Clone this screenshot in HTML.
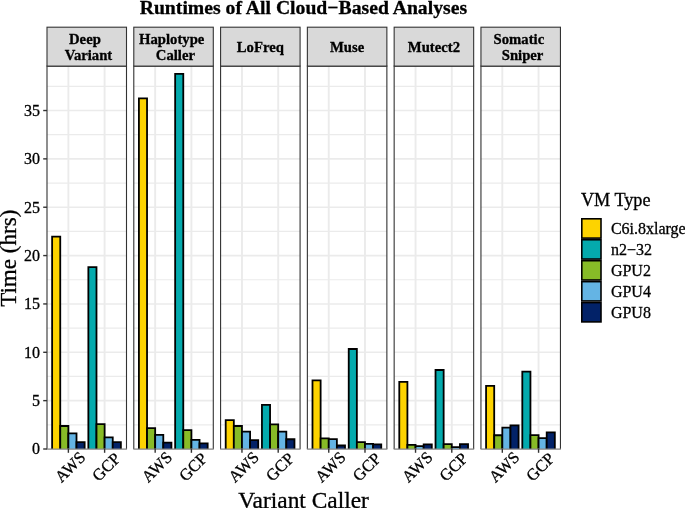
<!DOCTYPE html><html><head><meta charset="utf-8"><style>html,body{margin:0;padding:0;background:#fff;overflow:hidden}svg{display:block;will-change:transform;filter:blur(0.3px)}text{font-family:"Liberation Serif",serif;white-space:pre;stroke:#000;stroke-width:0.3px}</style></head><body>
<svg width="685" height="508" viewBox="0 0 685 508">
<rect width="685" height="508" fill="#fff"/>
<text x="303.4" y="13.8" font-size="19.7" font-weight="bold" text-anchor="middle" fill="#000">Runtimes of All Cloud−Based Analyses</text>
<rect x="47.00" y="66.10" width="79.50" height="382.90" fill="#fff"/>
<line x1="47.00" x2="126.50" y1="424.82" y2="424.82" stroke="#EBEBEB" stroke-width="1.2"/>
<line x1="47.00" x2="126.50" y1="376.47" y2="376.47" stroke="#EBEBEB" stroke-width="1.2"/>
<line x1="47.00" x2="126.50" y1="328.11" y2="328.11" stroke="#EBEBEB" stroke-width="1.2"/>
<line x1="47.00" x2="126.50" y1="279.76" y2="279.76" stroke="#EBEBEB" stroke-width="1.2"/>
<line x1="47.00" x2="126.50" y1="231.40" y2="231.40" stroke="#EBEBEB" stroke-width="1.2"/>
<line x1="47.00" x2="126.50" y1="183.05" y2="183.05" stroke="#EBEBEB" stroke-width="1.2"/>
<line x1="47.00" x2="126.50" y1="134.69" y2="134.69" stroke="#EBEBEB" stroke-width="1.2"/>
<line x1="47.00" x2="126.50" y1="86.34" y2="86.34" stroke="#EBEBEB" stroke-width="1.2"/>
<line x1="47.00" x2="126.50" y1="449.00" y2="449.00" stroke="#EBEBEB" stroke-width="1.6"/>
<line x1="47.00" x2="126.50" y1="400.64" y2="400.64" stroke="#EBEBEB" stroke-width="1.6"/>
<line x1="47.00" x2="126.50" y1="352.29" y2="352.29" stroke="#EBEBEB" stroke-width="1.6"/>
<line x1="47.00" x2="126.50" y1="303.94" y2="303.94" stroke="#EBEBEB" stroke-width="1.6"/>
<line x1="47.00" x2="126.50" y1="255.58" y2="255.58" stroke="#EBEBEB" stroke-width="1.6"/>
<line x1="47.00" x2="126.50" y1="207.23" y2="207.23" stroke="#EBEBEB" stroke-width="1.6"/>
<line x1="47.00" x2="126.50" y1="158.87" y2="158.87" stroke="#EBEBEB" stroke-width="1.6"/>
<line x1="47.00" x2="126.50" y1="110.52" y2="110.52" stroke="#EBEBEB" stroke-width="1.6"/>
<line x1="68.38" x2="68.38" y1="66.10" y2="449.00" stroke="#EBEBEB" stroke-width="1.9"/>
<line x1="104.62" x2="104.62" y1="66.10" y2="449.00" stroke="#EBEBEB" stroke-width="1.9"/>
<rect x="52.12" y="236.72" width="8.13" height="212.28" fill="#FDD300"/>
<path d="M52.12,449.00V236.72H60.25V449.00" fill="none" stroke="#000" stroke-width="1.8"/>
<rect x="60.25" y="425.98" width="8.13" height="23.02" fill="#87BB27"/>
<path d="M60.25,449.00V425.98H68.38V449.00" fill="none" stroke="#000" stroke-width="1.8"/>
<rect x="68.38" y="433.33" width="8.13" height="15.67" fill="#64B4E4"/>
<path d="M68.38,449.00V433.33H76.51V449.00" fill="none" stroke="#000" stroke-width="1.8"/>
<rect x="76.51" y="442.04" width="8.13" height="6.96" fill="#022268"/>
<path d="M76.51,449.00V442.04H84.64V449.00" fill="none" stroke="#000" stroke-width="1.8"/>
<rect x="88.36" y="267.19" width="8.13" height="181.81" fill="#04AAAD"/>
<path d="M88.36,449.00V267.19H96.49V449.00" fill="none" stroke="#000" stroke-width="1.8"/>
<rect x="96.49" y="424.15" width="8.13" height="24.85" fill="#87BB27"/>
<path d="M96.49,449.00V424.15H104.62V449.00" fill="none" stroke="#000" stroke-width="1.8"/>
<rect x="104.62" y="437.39" width="8.13" height="11.61" fill="#64B4E4"/>
<path d="M104.62,449.00V437.39H112.75V449.00" fill="none" stroke="#000" stroke-width="1.8"/>
<rect x="112.75" y="442.04" width="8.13" height="6.96" fill="#022268"/>
<path d="M112.75,449.00V442.04H120.88V449.00" fill="none" stroke="#000" stroke-width="1.8"/>
<path d="M47.00,449.00V66.10H126.50V449.00" fill="none" stroke="#333" stroke-width="1.1"/>
<line x1="46.50" x2="127.00" y1="449.10" y2="449.10" stroke="#8a8a8a" stroke-width="1.3"/>
<rect x="47.00" y="27.20" width="79.50" height="38.90" fill="#D9D9D9" stroke="#333" stroke-width="1.1"/>
<text x="86.75" y="43.7" font-size="14.7" font-weight="bold" text-anchor="middle">Deep </text>
<text x="86.75" y="59.7" font-size="14.7" font-weight="bold" text-anchor="middle"> Variant</text>
<line x1="68.38" x2="68.38" y1="449.00" y2="452.80" stroke="#333" stroke-width="1.4"/>
<text transform="translate(66.26,463.09) rotate(-45)" x="0" y="0" font-size="16.5" text-anchor="middle" dy="0.66em">AWS</text>
<line x1="104.62" x2="104.62" y1="449.00" y2="452.80" stroke="#333" stroke-width="1.4"/>
<text transform="translate(102.50,463.09) rotate(-45)" x="0" y="0" font-size="16.5" text-anchor="middle" dy="0.66em">GCP</text>
<rect x="133.79" y="66.10" width="79.50" height="382.90" fill="#fff"/>
<line x1="133.79" x2="213.29" y1="424.82" y2="424.82" stroke="#EBEBEB" stroke-width="1.2"/>
<line x1="133.79" x2="213.29" y1="376.47" y2="376.47" stroke="#EBEBEB" stroke-width="1.2"/>
<line x1="133.79" x2="213.29" y1="328.11" y2="328.11" stroke="#EBEBEB" stroke-width="1.2"/>
<line x1="133.79" x2="213.29" y1="279.76" y2="279.76" stroke="#EBEBEB" stroke-width="1.2"/>
<line x1="133.79" x2="213.29" y1="231.40" y2="231.40" stroke="#EBEBEB" stroke-width="1.2"/>
<line x1="133.79" x2="213.29" y1="183.05" y2="183.05" stroke="#EBEBEB" stroke-width="1.2"/>
<line x1="133.79" x2="213.29" y1="134.69" y2="134.69" stroke="#EBEBEB" stroke-width="1.2"/>
<line x1="133.79" x2="213.29" y1="86.34" y2="86.34" stroke="#EBEBEB" stroke-width="1.2"/>
<line x1="133.79" x2="213.29" y1="449.00" y2="449.00" stroke="#EBEBEB" stroke-width="1.6"/>
<line x1="133.79" x2="213.29" y1="400.64" y2="400.64" stroke="#EBEBEB" stroke-width="1.6"/>
<line x1="133.79" x2="213.29" y1="352.29" y2="352.29" stroke="#EBEBEB" stroke-width="1.6"/>
<line x1="133.79" x2="213.29" y1="303.94" y2="303.94" stroke="#EBEBEB" stroke-width="1.6"/>
<line x1="133.79" x2="213.29" y1="255.58" y2="255.58" stroke="#EBEBEB" stroke-width="1.6"/>
<line x1="133.79" x2="213.29" y1="207.23" y2="207.23" stroke="#EBEBEB" stroke-width="1.6"/>
<line x1="133.79" x2="213.29" y1="158.87" y2="158.87" stroke="#EBEBEB" stroke-width="1.6"/>
<line x1="133.79" x2="213.29" y1="110.52" y2="110.52" stroke="#EBEBEB" stroke-width="1.6"/>
<line x1="155.17" x2="155.17" y1="66.10" y2="449.00" stroke="#EBEBEB" stroke-width="1.9"/>
<line x1="191.41" x2="191.41" y1="66.10" y2="449.00" stroke="#EBEBEB" stroke-width="1.9"/>
<rect x="138.91" y="98.43" width="8.13" height="350.57" fill="#FDD300"/>
<path d="M138.91,449.00V98.43H147.04V449.00" fill="none" stroke="#000" stroke-width="1.8"/>
<rect x="147.04" y="428.11" width="8.13" height="20.89" fill="#87BB27"/>
<path d="M147.04,449.00V428.11H155.17V449.00" fill="none" stroke="#000" stroke-width="1.8"/>
<rect x="155.17" y="434.88" width="8.13" height="14.12" fill="#64B4E4"/>
<path d="M155.17,449.00V434.88H163.30V449.00" fill="none" stroke="#000" stroke-width="1.8"/>
<rect x="163.30" y="442.62" width="8.13" height="6.38" fill="#022268"/>
<path d="M163.30,449.00V442.62H171.43V449.00" fill="none" stroke="#000" stroke-width="1.8"/>
<rect x="175.15" y="73.96" width="8.13" height="375.04" fill="#04AAAD"/>
<path d="M175.15,449.00V73.96H183.28V449.00" fill="none" stroke="#000" stroke-width="1.8"/>
<rect x="183.28" y="430.04" width="8.13" height="18.96" fill="#87BB27"/>
<path d="M183.28,449.00V430.04H191.41V449.00" fill="none" stroke="#000" stroke-width="1.8"/>
<rect x="191.41" y="439.91" width="8.13" height="9.09" fill="#64B4E4"/>
<path d="M191.41,449.00V439.91H199.54V449.00" fill="none" stroke="#000" stroke-width="1.8"/>
<rect x="199.54" y="443.39" width="8.13" height="5.61" fill="#022268"/>
<path d="M199.54,449.00V443.39H207.67V449.00" fill="none" stroke="#000" stroke-width="1.8"/>
<path d="M133.79,449.00V66.10H213.29V449.00" fill="none" stroke="#333" stroke-width="1.1"/>
<line x1="133.29" x2="213.79" y1="449.10" y2="449.10" stroke="#8a8a8a" stroke-width="1.3"/>
<rect x="133.79" y="27.20" width="79.50" height="38.90" fill="#D9D9D9" stroke="#333" stroke-width="1.1"/>
<text x="173.54" y="43.7" font-size="14.7" font-weight="bold" text-anchor="middle">Haplotype </text>
<text x="173.54" y="59.7" font-size="14.7" font-weight="bold" text-anchor="middle"> Caller</text>
<line x1="155.17" x2="155.17" y1="449.00" y2="452.80" stroke="#333" stroke-width="1.4"/>
<text transform="translate(153.05,463.09) rotate(-45)" x="0" y="0" font-size="16.5" text-anchor="middle" dy="0.66em">AWS</text>
<line x1="191.41" x2="191.41" y1="449.00" y2="452.80" stroke="#333" stroke-width="1.4"/>
<text transform="translate(189.29,463.09) rotate(-45)" x="0" y="0" font-size="16.5" text-anchor="middle" dy="0.66em">GCP</text>
<rect x="220.58" y="66.10" width="79.50" height="382.90" fill="#fff"/>
<line x1="220.58" x2="300.08" y1="424.82" y2="424.82" stroke="#EBEBEB" stroke-width="1.2"/>
<line x1="220.58" x2="300.08" y1="376.47" y2="376.47" stroke="#EBEBEB" stroke-width="1.2"/>
<line x1="220.58" x2="300.08" y1="328.11" y2="328.11" stroke="#EBEBEB" stroke-width="1.2"/>
<line x1="220.58" x2="300.08" y1="279.76" y2="279.76" stroke="#EBEBEB" stroke-width="1.2"/>
<line x1="220.58" x2="300.08" y1="231.40" y2="231.40" stroke="#EBEBEB" stroke-width="1.2"/>
<line x1="220.58" x2="300.08" y1="183.05" y2="183.05" stroke="#EBEBEB" stroke-width="1.2"/>
<line x1="220.58" x2="300.08" y1="134.69" y2="134.69" stroke="#EBEBEB" stroke-width="1.2"/>
<line x1="220.58" x2="300.08" y1="86.34" y2="86.34" stroke="#EBEBEB" stroke-width="1.2"/>
<line x1="220.58" x2="300.08" y1="449.00" y2="449.00" stroke="#EBEBEB" stroke-width="1.6"/>
<line x1="220.58" x2="300.08" y1="400.64" y2="400.64" stroke="#EBEBEB" stroke-width="1.6"/>
<line x1="220.58" x2="300.08" y1="352.29" y2="352.29" stroke="#EBEBEB" stroke-width="1.6"/>
<line x1="220.58" x2="300.08" y1="303.94" y2="303.94" stroke="#EBEBEB" stroke-width="1.6"/>
<line x1="220.58" x2="300.08" y1="255.58" y2="255.58" stroke="#EBEBEB" stroke-width="1.6"/>
<line x1="220.58" x2="300.08" y1="207.23" y2="207.23" stroke="#EBEBEB" stroke-width="1.6"/>
<line x1="220.58" x2="300.08" y1="158.87" y2="158.87" stroke="#EBEBEB" stroke-width="1.6"/>
<line x1="220.58" x2="300.08" y1="110.52" y2="110.52" stroke="#EBEBEB" stroke-width="1.6"/>
<line x1="241.96" x2="241.96" y1="66.10" y2="449.00" stroke="#EBEBEB" stroke-width="1.9"/>
<line x1="278.20" x2="278.20" y1="66.10" y2="449.00" stroke="#EBEBEB" stroke-width="1.9"/>
<rect x="225.70" y="420.08" width="8.13" height="28.92" fill="#FDD300"/>
<path d="M225.70,449.00V420.08H233.83V449.00" fill="none" stroke="#000" stroke-width="1.8"/>
<rect x="233.83" y="425.98" width="8.13" height="23.02" fill="#87BB27"/>
<path d="M233.83,449.00V425.98H241.96V449.00" fill="none" stroke="#000" stroke-width="1.8"/>
<rect x="241.96" y="431.69" width="8.13" height="17.31" fill="#64B4E4"/>
<path d="M241.96,449.00V431.69H250.09V449.00" fill="none" stroke="#000" stroke-width="1.8"/>
<rect x="250.09" y="440.20" width="8.13" height="8.80" fill="#022268"/>
<path d="M250.09,449.00V440.20H258.22V449.00" fill="none" stroke="#000" stroke-width="1.8"/>
<rect x="261.94" y="404.80" width="8.13" height="44.20" fill="#04AAAD"/>
<path d="M261.94,449.00V404.80H270.07V449.00" fill="none" stroke="#000" stroke-width="1.8"/>
<rect x="270.07" y="424.34" width="8.13" height="24.66" fill="#87BB27"/>
<path d="M270.07,449.00V424.34H278.20V449.00" fill="none" stroke="#000" stroke-width="1.8"/>
<rect x="278.20" y="431.69" width="8.13" height="17.31" fill="#64B4E4"/>
<path d="M278.20,449.00V431.69H286.33V449.00" fill="none" stroke="#000" stroke-width="1.8"/>
<rect x="286.33" y="439.23" width="8.13" height="9.77" fill="#022268"/>
<path d="M286.33,449.00V439.23H294.46V449.00" fill="none" stroke="#000" stroke-width="1.8"/>
<path d="M220.58,449.00V66.10H300.08V449.00" fill="none" stroke="#333" stroke-width="1.1"/>
<line x1="220.08" x2="300.58" y1="449.10" y2="449.10" stroke="#8a8a8a" stroke-width="1.3"/>
<rect x="220.58" y="27.20" width="79.50" height="38.90" fill="#D9D9D9" stroke="#333" stroke-width="1.1"/>
<text x="260.33" y="51.6" font-size="14.7" font-weight="bold" text-anchor="middle">LoFreq</text>
<line x1="241.96" x2="241.96" y1="449.00" y2="452.80" stroke="#333" stroke-width="1.4"/>
<text transform="translate(239.84,463.09) rotate(-45)" x="0" y="0" font-size="16.5" text-anchor="middle" dy="0.66em">AWS</text>
<line x1="278.20" x2="278.20" y1="449.00" y2="452.80" stroke="#333" stroke-width="1.4"/>
<text transform="translate(276.08,463.09) rotate(-45)" x="0" y="0" font-size="16.5" text-anchor="middle" dy="0.66em">GCP</text>
<rect x="307.37" y="66.10" width="79.50" height="382.90" fill="#fff"/>
<line x1="307.37" x2="386.87" y1="424.82" y2="424.82" stroke="#EBEBEB" stroke-width="1.2"/>
<line x1="307.37" x2="386.87" y1="376.47" y2="376.47" stroke="#EBEBEB" stroke-width="1.2"/>
<line x1="307.37" x2="386.87" y1="328.11" y2="328.11" stroke="#EBEBEB" stroke-width="1.2"/>
<line x1="307.37" x2="386.87" y1="279.76" y2="279.76" stroke="#EBEBEB" stroke-width="1.2"/>
<line x1="307.37" x2="386.87" y1="231.40" y2="231.40" stroke="#EBEBEB" stroke-width="1.2"/>
<line x1="307.37" x2="386.87" y1="183.05" y2="183.05" stroke="#EBEBEB" stroke-width="1.2"/>
<line x1="307.37" x2="386.87" y1="134.69" y2="134.69" stroke="#EBEBEB" stroke-width="1.2"/>
<line x1="307.37" x2="386.87" y1="86.34" y2="86.34" stroke="#EBEBEB" stroke-width="1.2"/>
<line x1="307.37" x2="386.87" y1="449.00" y2="449.00" stroke="#EBEBEB" stroke-width="1.6"/>
<line x1="307.37" x2="386.87" y1="400.64" y2="400.64" stroke="#EBEBEB" stroke-width="1.6"/>
<line x1="307.37" x2="386.87" y1="352.29" y2="352.29" stroke="#EBEBEB" stroke-width="1.6"/>
<line x1="307.37" x2="386.87" y1="303.94" y2="303.94" stroke="#EBEBEB" stroke-width="1.6"/>
<line x1="307.37" x2="386.87" y1="255.58" y2="255.58" stroke="#EBEBEB" stroke-width="1.6"/>
<line x1="307.37" x2="386.87" y1="207.23" y2="207.23" stroke="#EBEBEB" stroke-width="1.6"/>
<line x1="307.37" x2="386.87" y1="158.87" y2="158.87" stroke="#EBEBEB" stroke-width="1.6"/>
<line x1="307.37" x2="386.87" y1="110.52" y2="110.52" stroke="#EBEBEB" stroke-width="1.6"/>
<line x1="328.75" x2="328.75" y1="66.10" y2="449.00" stroke="#EBEBEB" stroke-width="1.9"/>
<line x1="364.99" x2="364.99" y1="66.10" y2="449.00" stroke="#EBEBEB" stroke-width="1.9"/>
<rect x="312.49" y="380.43" width="8.13" height="68.57" fill="#FDD300"/>
<path d="M312.49,449.00V380.43H320.62V449.00" fill="none" stroke="#000" stroke-width="1.8"/>
<rect x="320.62" y="438.36" width="8.13" height="10.64" fill="#87BB27"/>
<path d="M320.62,449.00V438.36H328.75V449.00" fill="none" stroke="#000" stroke-width="1.8"/>
<rect x="328.75" y="439.04" width="8.13" height="9.96" fill="#64B4E4"/>
<path d="M328.75,449.00V439.04H336.88V449.00" fill="none" stroke="#000" stroke-width="1.8"/>
<rect x="336.88" y="445.52" width="8.13" height="3.48" fill="#022268"/>
<path d="M336.88,449.00V445.52H345.01V449.00" fill="none" stroke="#000" stroke-width="1.8"/>
<rect x="348.73" y="349.00" width="8.13" height="100.00" fill="#04AAAD"/>
<path d="M348.73,449.00V349.00H356.86V449.00" fill="none" stroke="#000" stroke-width="1.8"/>
<rect x="356.86" y="442.04" width="8.13" height="6.96" fill="#87BB27"/>
<path d="M356.86,449.00V442.04H364.99V449.00" fill="none" stroke="#000" stroke-width="1.8"/>
<rect x="364.99" y="443.78" width="8.13" height="5.22" fill="#64B4E4"/>
<path d="M364.99,449.00V443.78H373.12V449.00" fill="none" stroke="#000" stroke-width="1.8"/>
<rect x="373.12" y="444.45" width="8.13" height="4.55" fill="#022268"/>
<path d="M373.12,449.00V444.45H381.25V449.00" fill="none" stroke="#000" stroke-width="1.8"/>
<path d="M307.37,449.00V66.10H386.87V449.00" fill="none" stroke="#333" stroke-width="1.1"/>
<line x1="306.87" x2="387.37" y1="449.10" y2="449.10" stroke="#8a8a8a" stroke-width="1.3"/>
<rect x="307.37" y="27.20" width="79.50" height="38.90" fill="#D9D9D9" stroke="#333" stroke-width="1.1"/>
<text x="347.12" y="51.6" font-size="14.7" font-weight="bold" text-anchor="middle">Muse</text>
<line x1="328.75" x2="328.75" y1="449.00" y2="452.80" stroke="#333" stroke-width="1.4"/>
<text transform="translate(326.63,463.09) rotate(-45)" x="0" y="0" font-size="16.5" text-anchor="middle" dy="0.66em">AWS</text>
<line x1="364.99" x2="364.99" y1="449.00" y2="452.80" stroke="#333" stroke-width="1.4"/>
<text transform="translate(362.87,463.09) rotate(-45)" x="0" y="0" font-size="16.5" text-anchor="middle" dy="0.66em">GCP</text>
<rect x="394.16" y="66.10" width="79.50" height="382.90" fill="#fff"/>
<line x1="394.16" x2="473.66" y1="424.82" y2="424.82" stroke="#EBEBEB" stroke-width="1.2"/>
<line x1="394.16" x2="473.66" y1="376.47" y2="376.47" stroke="#EBEBEB" stroke-width="1.2"/>
<line x1="394.16" x2="473.66" y1="328.11" y2="328.11" stroke="#EBEBEB" stroke-width="1.2"/>
<line x1="394.16" x2="473.66" y1="279.76" y2="279.76" stroke="#EBEBEB" stroke-width="1.2"/>
<line x1="394.16" x2="473.66" y1="231.40" y2="231.40" stroke="#EBEBEB" stroke-width="1.2"/>
<line x1="394.16" x2="473.66" y1="183.05" y2="183.05" stroke="#EBEBEB" stroke-width="1.2"/>
<line x1="394.16" x2="473.66" y1="134.69" y2="134.69" stroke="#EBEBEB" stroke-width="1.2"/>
<line x1="394.16" x2="473.66" y1="86.34" y2="86.34" stroke="#EBEBEB" stroke-width="1.2"/>
<line x1="394.16" x2="473.66" y1="449.00" y2="449.00" stroke="#EBEBEB" stroke-width="1.6"/>
<line x1="394.16" x2="473.66" y1="400.64" y2="400.64" stroke="#EBEBEB" stroke-width="1.6"/>
<line x1="394.16" x2="473.66" y1="352.29" y2="352.29" stroke="#EBEBEB" stroke-width="1.6"/>
<line x1="394.16" x2="473.66" y1="303.94" y2="303.94" stroke="#EBEBEB" stroke-width="1.6"/>
<line x1="394.16" x2="473.66" y1="255.58" y2="255.58" stroke="#EBEBEB" stroke-width="1.6"/>
<line x1="394.16" x2="473.66" y1="207.23" y2="207.23" stroke="#EBEBEB" stroke-width="1.6"/>
<line x1="394.16" x2="473.66" y1="158.87" y2="158.87" stroke="#EBEBEB" stroke-width="1.6"/>
<line x1="394.16" x2="473.66" y1="110.52" y2="110.52" stroke="#EBEBEB" stroke-width="1.6"/>
<line x1="415.54" x2="415.54" y1="66.10" y2="449.00" stroke="#EBEBEB" stroke-width="1.9"/>
<line x1="451.78" x2="451.78" y1="66.10" y2="449.00" stroke="#EBEBEB" stroke-width="1.9"/>
<rect x="399.28" y="381.88" width="8.13" height="67.12" fill="#FDD300"/>
<path d="M399.28,449.00V381.88H407.41V449.00" fill="none" stroke="#000" stroke-width="1.8"/>
<rect x="407.41" y="444.94" width="8.13" height="4.06" fill="#87BB27"/>
<path d="M407.41,449.00V444.94H415.54V449.00" fill="none" stroke="#000" stroke-width="1.8"/>
<rect x="415.54" y="446.10" width="8.13" height="2.90" fill="#64B4E4"/>
<path d="M415.54,449.00V446.10H423.67V449.00" fill="none" stroke="#000" stroke-width="1.8"/>
<rect x="423.67" y="444.45" width="8.13" height="4.55" fill="#022268"/>
<path d="M423.67,449.00V444.45H431.80V449.00" fill="none" stroke="#000" stroke-width="1.8"/>
<rect x="435.52" y="369.99" width="8.13" height="79.01" fill="#04AAAD"/>
<path d="M435.52,449.00V369.99H443.65V449.00" fill="none" stroke="#000" stroke-width="1.8"/>
<rect x="443.65" y="444.16" width="8.13" height="4.84" fill="#87BB27"/>
<path d="M443.65,449.00V444.16H451.78V449.00" fill="none" stroke="#000" stroke-width="1.8"/>
<rect x="451.78" y="447.07" width="8.13" height="1.93" fill="#64B4E4"/>
<path d="M451.78,449.00V447.07H459.91V449.00" fill="none" stroke="#000" stroke-width="1.8"/>
<rect x="459.91" y="444.16" width="8.13" height="4.84" fill="#022268"/>
<path d="M459.91,449.00V444.16H468.04V449.00" fill="none" stroke="#000" stroke-width="1.8"/>
<path d="M394.16,449.00V66.10H473.66V449.00" fill="none" stroke="#333" stroke-width="1.1"/>
<line x1="393.66" x2="474.16" y1="449.10" y2="449.10" stroke="#8a8a8a" stroke-width="1.3"/>
<rect x="394.16" y="27.20" width="79.50" height="38.90" fill="#D9D9D9" stroke="#333" stroke-width="1.1"/>
<text x="433.91" y="51.6" font-size="14.7" font-weight="bold" text-anchor="middle">Mutect2</text>
<line x1="415.54" x2="415.54" y1="449.00" y2="452.80" stroke="#333" stroke-width="1.4"/>
<text transform="translate(413.42,463.09) rotate(-45)" x="0" y="0" font-size="16.5" text-anchor="middle" dy="0.66em">AWS</text>
<line x1="451.78" x2="451.78" y1="449.00" y2="452.80" stroke="#333" stroke-width="1.4"/>
<text transform="translate(449.66,463.09) rotate(-45)" x="0" y="0" font-size="16.5" text-anchor="middle" dy="0.66em">GCP</text>
<rect x="480.95" y="66.10" width="79.50" height="382.90" fill="#fff"/>
<line x1="480.95" x2="560.45" y1="424.82" y2="424.82" stroke="#EBEBEB" stroke-width="1.2"/>
<line x1="480.95" x2="560.45" y1="376.47" y2="376.47" stroke="#EBEBEB" stroke-width="1.2"/>
<line x1="480.95" x2="560.45" y1="328.11" y2="328.11" stroke="#EBEBEB" stroke-width="1.2"/>
<line x1="480.95" x2="560.45" y1="279.76" y2="279.76" stroke="#EBEBEB" stroke-width="1.2"/>
<line x1="480.95" x2="560.45" y1="231.40" y2="231.40" stroke="#EBEBEB" stroke-width="1.2"/>
<line x1="480.95" x2="560.45" y1="183.05" y2="183.05" stroke="#EBEBEB" stroke-width="1.2"/>
<line x1="480.95" x2="560.45" y1="134.69" y2="134.69" stroke="#EBEBEB" stroke-width="1.2"/>
<line x1="480.95" x2="560.45" y1="86.34" y2="86.34" stroke="#EBEBEB" stroke-width="1.2"/>
<line x1="480.95" x2="560.45" y1="449.00" y2="449.00" stroke="#EBEBEB" stroke-width="1.6"/>
<line x1="480.95" x2="560.45" y1="400.64" y2="400.64" stroke="#EBEBEB" stroke-width="1.6"/>
<line x1="480.95" x2="560.45" y1="352.29" y2="352.29" stroke="#EBEBEB" stroke-width="1.6"/>
<line x1="480.95" x2="560.45" y1="303.94" y2="303.94" stroke="#EBEBEB" stroke-width="1.6"/>
<line x1="480.95" x2="560.45" y1="255.58" y2="255.58" stroke="#EBEBEB" stroke-width="1.6"/>
<line x1="480.95" x2="560.45" y1="207.23" y2="207.23" stroke="#EBEBEB" stroke-width="1.6"/>
<line x1="480.95" x2="560.45" y1="158.87" y2="158.87" stroke="#EBEBEB" stroke-width="1.6"/>
<line x1="480.95" x2="560.45" y1="110.52" y2="110.52" stroke="#EBEBEB" stroke-width="1.6"/>
<line x1="502.33" x2="502.33" y1="66.10" y2="449.00" stroke="#EBEBEB" stroke-width="1.9"/>
<line x1="538.57" x2="538.57" y1="66.10" y2="449.00" stroke="#EBEBEB" stroke-width="1.9"/>
<rect x="486.07" y="385.95" width="8.13" height="63.05" fill="#FDD300"/>
<path d="M486.07,449.00V385.95H494.20V449.00" fill="none" stroke="#000" stroke-width="1.8"/>
<rect x="494.20" y="435.27" width="8.13" height="13.73" fill="#87BB27"/>
<path d="M494.20,449.00V435.27H502.33V449.00" fill="none" stroke="#000" stroke-width="1.8"/>
<rect x="502.33" y="427.53" width="8.13" height="21.47" fill="#64B4E4"/>
<path d="M502.33,449.00V427.53H510.46V449.00" fill="none" stroke="#000" stroke-width="1.8"/>
<rect x="510.46" y="425.31" width="8.13" height="23.69" fill="#022268"/>
<path d="M510.46,449.00V425.31H518.59V449.00" fill="none" stroke="#000" stroke-width="1.8"/>
<rect x="522.31" y="371.63" width="8.13" height="77.37" fill="#04AAAD"/>
<path d="M522.31,449.00V371.63H530.44V449.00" fill="none" stroke="#000" stroke-width="1.8"/>
<rect x="530.44" y="435.07" width="8.13" height="13.93" fill="#87BB27"/>
<path d="M530.44,449.00V435.07H538.57V449.00" fill="none" stroke="#000" stroke-width="1.8"/>
<rect x="538.57" y="438.07" width="8.13" height="10.93" fill="#64B4E4"/>
<path d="M538.57,449.00V438.07H546.70V449.00" fill="none" stroke="#000" stroke-width="1.8"/>
<rect x="546.70" y="432.37" width="8.13" height="16.63" fill="#022268"/>
<path d="M546.70,449.00V432.37H554.83V449.00" fill="none" stroke="#000" stroke-width="1.8"/>
<path d="M480.95,449.00V66.10H560.45V449.00" fill="none" stroke="#333" stroke-width="1.1"/>
<line x1="480.45" x2="560.95" y1="449.10" y2="449.10" stroke="#8a8a8a" stroke-width="1.3"/>
<rect x="480.95" y="27.20" width="79.50" height="38.90" fill="#D9D9D9" stroke="#333" stroke-width="1.1"/>
<text x="520.70" y="43.7" font-size="14.7" font-weight="bold" text-anchor="middle">Somatic </text>
<text x="520.70" y="59.7" font-size="14.7" font-weight="bold" text-anchor="middle"> Sniper</text>
<line x1="502.33" x2="502.33" y1="449.00" y2="452.80" stroke="#333" stroke-width="1.4"/>
<text transform="translate(500.21,463.09) rotate(-45)" x="0" y="0" font-size="16.5" text-anchor="middle" dy="0.66em">AWS</text>
<line x1="538.57" x2="538.57" y1="449.00" y2="452.80" stroke="#333" stroke-width="1.4"/>
<text transform="translate(536.45,463.09) rotate(-45)" x="0" y="0" font-size="16.5" text-anchor="middle" dy="0.66em">GCP</text>
<line x1="43.20" x2="47.00" y1="449.00" y2="449.00" stroke="#333" stroke-width="1.4"/>
<text x="39.9" y="454.40" font-size="16" text-anchor="end">0</text>
<line x1="43.20" x2="47.00" y1="400.64" y2="400.64" stroke="#333" stroke-width="1.4"/>
<text x="39.9" y="406.04" font-size="16" text-anchor="end">5</text>
<line x1="43.20" x2="47.00" y1="352.29" y2="352.29" stroke="#333" stroke-width="1.4"/>
<text x="39.9" y="357.69" font-size="16" text-anchor="end">10</text>
<line x1="43.20" x2="47.00" y1="303.94" y2="303.94" stroke="#333" stroke-width="1.4"/>
<text x="39.9" y="309.33" font-size="16" text-anchor="end">15</text>
<line x1="43.20" x2="47.00" y1="255.58" y2="255.58" stroke="#333" stroke-width="1.4"/>
<text x="39.9" y="260.98" font-size="16" text-anchor="end">20</text>
<line x1="43.20" x2="47.00" y1="207.23" y2="207.23" stroke="#333" stroke-width="1.4"/>
<text x="39.9" y="212.63" font-size="16" text-anchor="end">25</text>
<line x1="43.20" x2="47.00" y1="158.87" y2="158.87" stroke="#333" stroke-width="1.4"/>
<text x="39.9" y="164.27" font-size="16" text-anchor="end">30</text>
<line x1="43.20" x2="47.00" y1="110.52" y2="110.52" stroke="#333" stroke-width="1.4"/>
<text x="39.9" y="115.92" font-size="16" text-anchor="end">35</text>
<text x="303.6" y="508.0" font-size="23.4" text-anchor="middle">Variant Caller</text>
<text transform="translate(16.2,258.2) rotate(-90)" x="0" y="0" font-size="23.1" text-anchor="middle">Time (hrs)</text>
<text x="580.9" y="206.2" font-size="18.2">VM Type</text>
<rect x="581.80" y="218.80" width="19.2" height="19.3" fill="#FDD300" stroke="#000" stroke-width="1.6"/>
<text x="610.9" y="234.00" font-size="16">C6i.8xlarge</text>
<rect x="581.80" y="239.75" width="19.2" height="19.3" fill="#04AAAD" stroke="#000" stroke-width="1.6"/>
<text x="610.9" y="254.95" font-size="16">n2−32</text>
<rect x="581.80" y="260.70" width="19.2" height="19.3" fill="#87BB27" stroke="#000" stroke-width="1.6"/>
<text x="610.9" y="275.90" font-size="16">GPU2</text>
<rect x="581.80" y="281.65" width="19.2" height="19.3" fill="#64B4E4" stroke="#000" stroke-width="1.6"/>
<text x="610.9" y="296.85" font-size="16">GPU4</text>
<rect x="581.80" y="302.60" width="19.2" height="19.3" fill="#022268" stroke="#000" stroke-width="1.6"/>
<text x="610.9" y="317.80" font-size="16">GPU8</text>
</svg></body></html>
